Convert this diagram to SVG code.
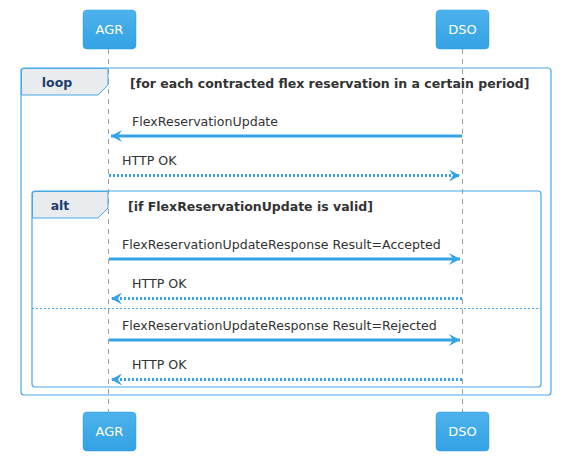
<svg xmlns="http://www.w3.org/2000/svg" width="562" height="462" viewBox="0 0 562 462">
<defs>
<linearGradient id="pg" x1="0" y1="0" x2="0" y2="1">
<stop offset="0" stop-color="#4db2ec"/>
<stop offset="1" stop-color="#33a2e5"/>
</linearGradient>
<marker id="ah" viewBox="0 0 12 12" refX="11" refY="6" markerWidth="12" markerHeight="12" markerUnits="userSpaceOnUse" orient="auto">
<path d="M0,0 L11,6 L0,12 L4,6 Z" fill="#35a3e5"/>
</marker>
</defs>
<style>
.part{fill:url(#pg);stroke:#2c9be0;stroke-width:0.5}
.ptxt{font-family:"DejaVu Sans",sans-serif;font-size:13px;fill:#ffffff;text-anchor:middle}
.life{stroke:#a0a0a0;stroke-width:1;stroke-dasharray:5,5}
.frame{fill:none;stroke:#4aa8e6;stroke-width:1.2}
.tab{fill:#e9ecef;stroke:#4aa8e6;stroke-width:1}
.kw{font-family:"DejaVu Sans",sans-serif;font-size:12.5px;font-weight:bold;fill:#1d3d6c;text-anchor:middle}
.cond{font-family:"DejaVu Sans",sans-serif;font-size:12.5px;font-weight:bold;fill:#333333}
.msg{font-family:"DejaVu Sans",sans-serif;font-size:12.6px;fill:#333333}
.sync{stroke:#35a3e5;stroke-width:3;fill:none}
.ret{stroke:#35a3e5;stroke-width:3;fill:none;stroke-dasharray:2,2}
.sep{stroke:#4aa8e6;stroke-width:1;stroke-dasharray:2,2}
</style>
<g id="lifelines">
<line class="life" x1="108.5" y1="49" x2="108.5" y2="412"/>
<line class="life" x1="462.5" y1="49" x2="462.5" y2="412"/>
</g>
<g id="loop">
<rect class="frame" x="21" y="68" width="530" height="327" rx="3"/>
<path class="tab" d="M21.5,71 Q21.5,68.5 24,68.5 L108,68.5 L108,85 L98,95 L21.5,95 Z"/>
<text class="kw" x="57" y="87">loop</text>
<text class="cond" x="130" y="88">[for each contracted flex reservation in a certain period]</text>
</g>
<g id="alt">
<rect class="frame" x="32" y="191" width="509" height="196" rx="3"/>
<path class="tab" d="M32.5,194 Q32.5,191.5 35,191.5 L108,191.5 L108,208 L98,218 L32.5,218 Z"/>
<text class="kw" x="60" y="210">alt</text>
<text class="cond" x="128" y="211">[if FlexReservationUpdate is valid]</text>
<line class="sep" x1="32" y1="308.5" x2="541" y2="308.5"/>
</g>
<g id="connectors">
<line class="sync" x1="462" y1="136" x2="111" y2="136" marker-end="url(#ah)"/>
<text class="msg" x="132" y="126">FlexReservationUpdate</text>
<line class="ret" x1="109" y1="175.5" x2="460" y2="175.5" marker-end="url(#ah)"/>
<text class="msg" x="122" y="165">HTTP OK</text>
<line class="sync" x1="109" y1="259" x2="460" y2="259" marker-end="url(#ah)"/>
<text class="msg" x="122" y="249">FlexReservationUpdateResponse Result=Accepted</text>
<line class="ret" x1="462" y1="298.5" x2="111" y2="298.5" marker-end="url(#ah)"/>
<text class="msg" x="132" y="288">HTTP OK</text>
<line class="sync" x1="109" y1="340" x2="460" y2="340" marker-end="url(#ah)"/>
<text class="msg" x="122" y="330">FlexReservationUpdateResponse Result=Rejected</text>
<line class="ret" x1="462" y1="379.5" x2="111" y2="379.5" marker-end="url(#ah)"/>
<text class="msg" x="132" y="369">HTTP OK</text>
</g>
<g id="agr-top"><rect class="part" x="83" y="10" width="53" height="39" rx="4"/><text class="ptxt" x="109.5" y="34">AGR</text></g>
<g id="dso-top"><rect class="part" x="436" y="10" width="53" height="39" rx="4"/><text class="ptxt" x="462.5" y="34">DSO</text></g>
<g id="agr-bottom"><rect class="part" x="83" y="412" width="53" height="39" rx="4"/><text class="ptxt" x="109.5" y="436">AGR</text></g>
<g id="dso-bottom"><rect class="part" x="436" y="412" width="53" height="39" rx="4"/><text class="ptxt" x="462.5" y="436">DSO</text></g>
</svg>
